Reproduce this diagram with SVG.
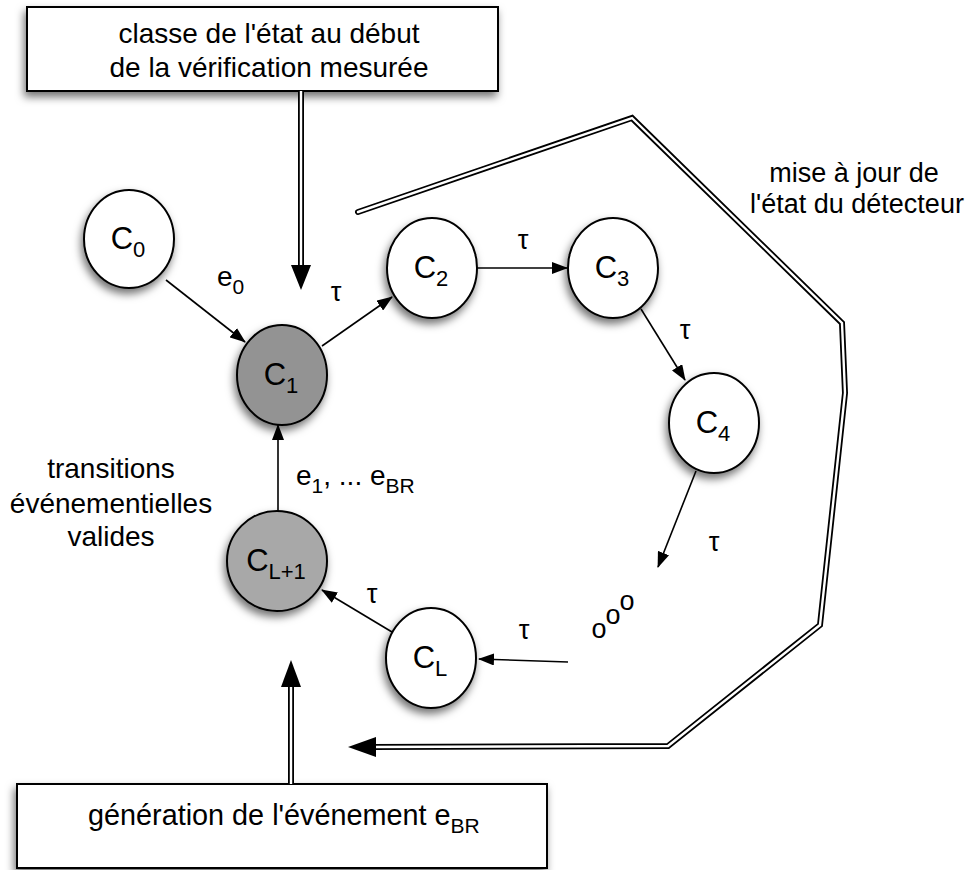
<svg xmlns="http://www.w3.org/2000/svg" width="967" height="870" viewBox="0 0 967 870">
<defs>
<style>
text{font-family:"Liberation Sans",Arial,sans-serif;fill:#000}
.lbl{font-size:28px}
.note{font-size:27px}
.tau{font-size:27px}
.nd{font-size:31px}
.sub{font-size:22px}
.sub2{font-size:21px}
.node{stroke:#000;stroke-width:2}
.edge{stroke:#000;stroke-width:1.6;fill:none;marker-end:url(#ah)}
.dblo{stroke:#000;stroke-width:6;fill:none;stroke-linejoin:miter}
.dbli{stroke:#fff;stroke-width:2.4;fill:none;stroke-linejoin:miter}
.box{fill:#fff;stroke:#000;stroke-width:2}
</style>
<marker id="ah" markerWidth="16" markerHeight="12" refX="15" refY="6" orient="auto" markerUnits="userSpaceOnUse">
<path d="M0,0 L16,6 L0,12 Z" fill="#000"/>
</marker>
<filter id="sh" x="-30%" y="-30%" width="160%" height="170%">
<feDropShadow dx="-2" dy="5" stdDeviation="4" flood-color="#000" flood-opacity="0.55"/>
</filter>
</defs>
<rect width="967" height="870" fill="#fff"/>

<g id="box-top">
<rect class="box" x="27" y="7" width="471" height="84" filter="url(#sh)"/>
<text class="lbl" x="269" y="43" text-anchor="middle">classe de l'état au début</text>
<text class="lbl" x="269" y="77" text-anchor="middle">de la vérification mesurée</text>
</g>

<g id="box-bottom">
<rect class="box" x="17" y="784" width="530" height="84" filter="url(#sh)"/>
<text x="88" y="825" style="font-size:28.8px">génération de l'événement e<tspan class="sub2" dy="8">BR</tspan></text>
</g>

<g id="connectors">
<path class="edge" d="M166,280 L245,342"/>
<path class="edge" d="M322,346 L392,297"/>
<path class="edge" d="M477,268 L567,268"/>
<path class="edge" d="M641,309 L685,380"/>
<path class="edge" d="M696,471 L658,567"/>
<path class="edge" d="M568,662 L479,659"/>
<path class="edge" d="M392,632 L322,590"/>
<path class="edge" d="M278,511 L278,425"/>

<path class="dblo" d="M301,91 L301,268"/>
<path class="dbli" d="M301,91 L301,268"/>
<polygon points="291,265 311,265 301,290" fill="#000"/>

<path class="dblo" d="M291,784 L291,684"/>
<path class="dbli" d="M291,784 L291,684"/>
<polygon points="281,687 301,687 291,660" fill="#000"/>

<path class="dblo" d="M358,212 L632,118 L842,323 L845,393 L820,625 L668,746 L372,747" stroke-linecap="round"/>
<path class="dbli" d="M358,212 L632,118 L842,323 L845,393 L820,625 L668,746 L372,747" stroke-linecap="round"/>
<polygon points="376,737 376,757 348,747" fill="#000"/>
</g>

<g id="edge-labels">
<text class="lbl" x="217" y="286">e<tspan class="sub2" dy="8">0</tspan></text>
<text class="tau" x="336" y="301" text-anchor="middle">τ</text>
<text class="tau" x="523" y="249" text-anchor="middle">τ</text>
<text class="tau" x="685" y="339" text-anchor="middle">τ</text>
<text class="tau" x="714" y="551" text-anchor="middle">τ</text>
<text class="tau" x="524" y="639" text-anchor="middle">τ</text>
<text class="tau" x="372" y="603" text-anchor="middle">τ</text>
<text class="lbl" x="296" y="485">e<tspan class="sub2" dy="8">1</tspan><tspan dy="-8">, ... e</tspan><tspan class="sub2" dy="8">BR</tspan></text>
<text x="591.5 605.5 619.5" y="638 624 610" style="font-size:27px">ooo</text>
</g>

<g id="notes">
<text class="lbl" x="111" y="478" text-anchor="middle">transitions</text>
<text class="lbl" x="111" y="513" text-anchor="middle">événementielles</text>
<text class="lbl" x="111" y="546" text-anchor="middle">valides</text>
<text class="note" x="854" y="182" text-anchor="middle">mise à jour de</text>
<text class="note" x="857" y="213" text-anchor="middle">l'état du détecteur</text>
</g>

<g id="node-C0">
<ellipse class="node" cx="129" cy="239" rx="45" ry="49" fill="#fff" filter="url(#sh)"/>
<text class="nd" x="128" y="249" text-anchor="middle">C<tspan class="sub" dy="8">0</tspan></text>
</g>
<g id="node-C1">
<ellipse class="node" cx="282" cy="375" rx="45" ry="50" fill="#939393" filter="url(#sh)"/>
<text class="nd" x="281" y="385" text-anchor="middle">C<tspan class="sub" dy="8">1</tspan></text>
</g>
<g id="node-C2">
<ellipse class="node" cx="432" cy="268" rx="45" ry="50" fill="#fff" filter="url(#sh)"/>
<text class="nd" x="431" y="278" text-anchor="middle">C<tspan class="sub" dy="8">2</tspan></text>
</g>
<g id="node-C3">
<ellipse class="node" cx="613" cy="268" rx="45" ry="50" fill="#fff" filter="url(#sh)"/>
<text class="nd" x="612" y="278" text-anchor="middle">C<tspan class="sub" dy="8">3</tspan></text>
</g>
<g id="node-C4">
<ellipse class="node" cx="714" cy="423" rx="45" ry="50" fill="#fff" filter="url(#sh)"/>
<text class="nd" x="713" y="433" text-anchor="middle">C<tspan class="sub" dy="8">4</tspan></text>
</g>
<g id="node-CL1">
<ellipse class="node" cx="277" cy="561" rx="50" ry="50" fill="#a8a8a8" filter="url(#sh)"/>
<text class="nd" x="276" y="571" text-anchor="middle">C<tspan class="sub" dy="8">L+1</tspan></text>
</g>
<g id="node-CL">
<ellipse class="node" cx="431" cy="658" rx="45" ry="50" fill="#fff" filter="url(#sh)"/>
<text class="nd" x="430" y="668" text-anchor="middle">C<tspan class="sub" dy="8">L</tspan></text>
</g>
</svg>
